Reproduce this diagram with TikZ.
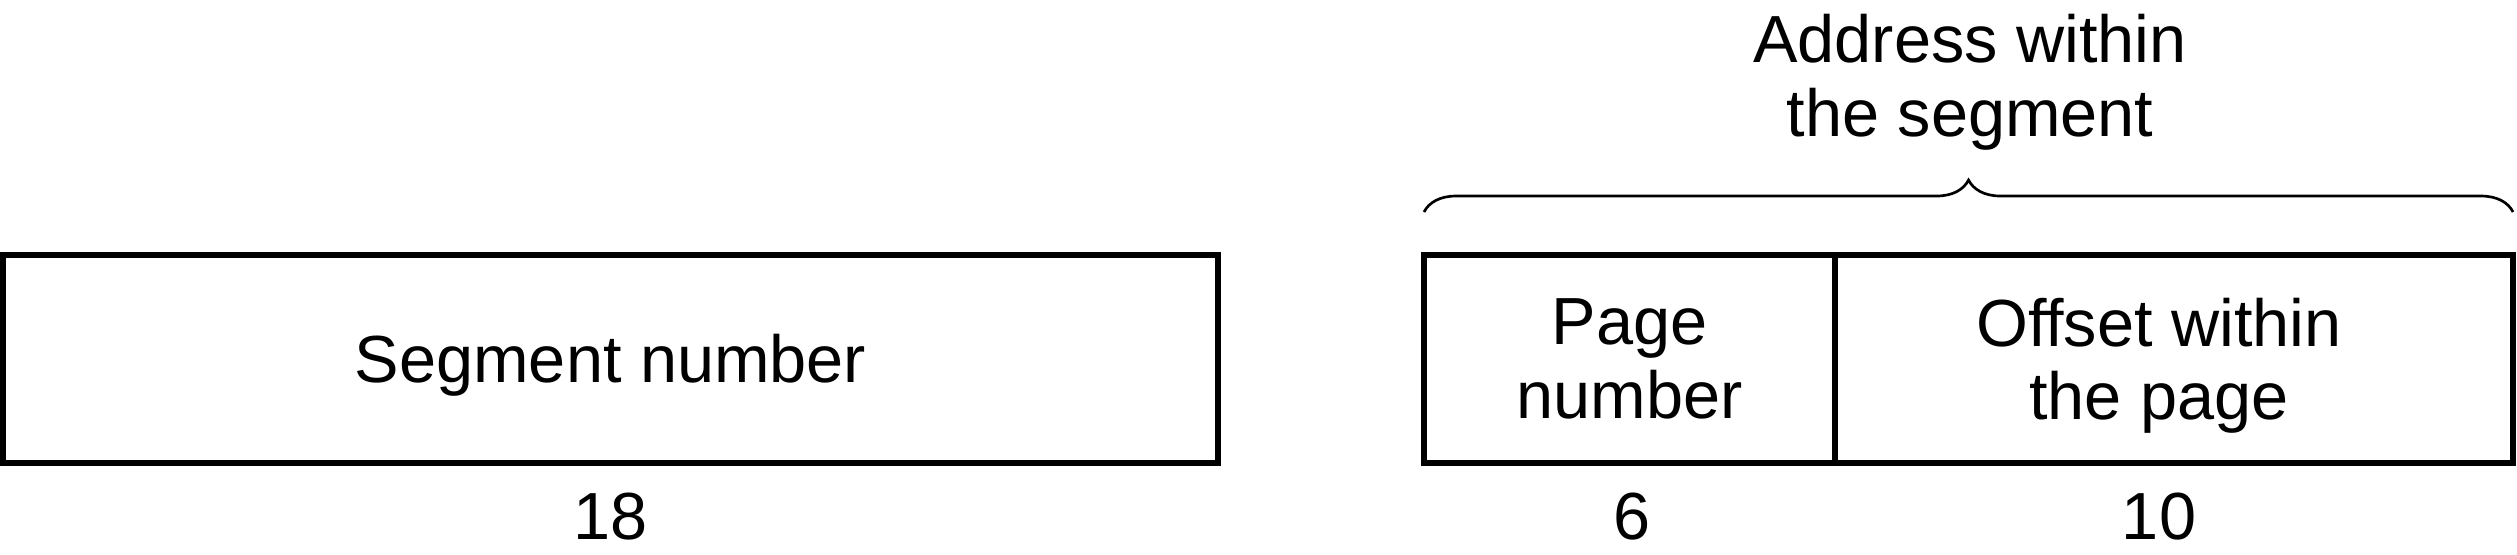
\documentclass[tikz,border=0pt]{standalone}
\usepackage{fontspec}
\setmainfont{Liberation Sans}
\usetikzlibrary{decorations.pathreplacing}
\begin{document}
\begin{tikzpicture}[x=0.15pt, y=0.15pt,
	field/.style={draw, line width=0.9pt, minimum height=31.2pt, inner sep=0pt, align=center, text depth=0pt, font=\fontsize{10}{11}\selectfont},
	bits/.style={anchor=base, font=\fontsize{10}{11}\selectfont}]
	\useasboundingbox (0,0) rectangle (2517,554);
	% the three fields
	\node[field, minimum width=182.1pt] (seg) at (610.5,195.5) {Segment number};
	\node[field, minimum width=61.65pt] (page) at (1629.5,195.5) {Page\\number};
	\node[field, minimum width=101.7pt] (offset) at (2174,195.5) {};
	\node[align=center, inner sep=0pt, text depth=0pt, font=\fontsize{10}{11}\selectfont] (offtxt) at ([xshift=-2.25pt]offset.center) {Offset within\\the page};
	% widths in bits
	\node[bits] (n18) at (610.5,15) {18};
	\node[bits] (n6) at (1632,15) {6};
	\node[bits] (n10) at (2159,15) {10};
	% brace over the address
	\coordinate (bl) at (1424,342);
	\coordinate (br) at (2513,342);
	\draw[line width=0.4pt, decorate, decoration={brace, amplitude=4.8pt}] (bl) -- (br);
	\node[bits, align=center] (addr) at (1970,418) {Address within\\the segment};
\end{tikzpicture}
\end{document}
